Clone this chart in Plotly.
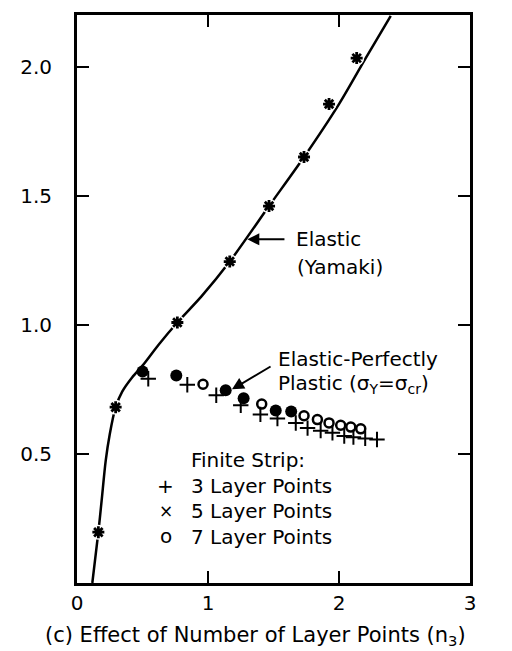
import plotly.graph_objects as go

# Elastic (Yamaki) curve
curve_x = [0.117, 0.163, 0.188, 0.219, 0.25, 0.295, 0.346, 0.422, 0.5, 0.626, 0.766,
           0.95, 1.166, 1.466, 1.733, 2.0, 2.204, 2.395]
curve_y = [0.0, 0.197, 0.319, 0.473, 0.576, 0.681, 0.742, 0.797, 0.842, 0.925, 1.009,
           1.11, 1.245, 1.46, 1.65, 1.855, 2.033, 2.197]

# Elastic points (asterisks)
elastic_x = [0.163, 0.295, 0.766, 1.166, 1.466, 1.733, 1.924, 2.135]
elastic_y = [0.197, 0.681, 1.009, 1.245, 1.46, 1.65, 1.855, 2.033]

# Finite strip, 3 layer points (+)
n3_x = [0.544, 0.842, 1.063, 1.25, 1.40, 1.53, 1.67, 1.76, 1.86, 1.95, 2.04, 2.11, 2.20, 2.29]
n3_y = [0.791, 0.768, 0.727, 0.688, 0.653, 0.637, 0.62, 0.60, 0.59, 0.582, 0.569, 0.565, 0.56, 0.556]

# Finite strip, 5 layer points (printed as solid dots)
n5_x = [0.50, 0.758, 1.135, 1.272, 1.517, 1.635]
n5_y = [0.819, 0.804, 0.747, 0.716, 0.668, 0.664]

# Finite strip, 7 layer points (open circles)
n7_x = [0.962, 1.41, 1.733, 1.835, 1.924, 2.013, 2.09, 2.166]
n7_y = [0.77, 0.693, 0.648, 0.633, 0.62, 0.611, 0.604, 0.597]

x_ticks = [0, 1, 2, 3]
y_ticks = [0.5, 1.0, 1.5, 2.0]
y_ticktext = ["0.5", "1.0", "1.5", "2.0"]

FONT = "DejaVu Sans"
fig = go.Figure()

fig.add_trace(go.Scatter(x=curve_x, y=curve_y, mode="lines",
                         line=dict(color="black", width=2.5, shape="spline", smoothing=0.8),
                         hoverinfo="skip"))
# white halos to break the curve around the asterisks
fig.add_trace(go.Scatter(x=elastic_x, y=elastic_y, mode="markers",
                         marker=dict(symbol="circle", size=15, color="white"),
                         hoverinfo="skip"))
fig.add_trace(go.Scatter(x=elastic_x, y=elastic_y, mode="markers",
                         marker=dict(symbol="asterisk-open", size=10, color="black",
                                     line=dict(color="black", width=2.8))))
fig.add_trace(go.Scatter(x=n3_x, y=n3_y, mode="markers",
                         marker=dict(symbol="cross-thin-open", size=11, color="black",
                                     line=dict(color="black", width=2))))
fig.add_trace(go.Scatter(x=n5_x, y=n5_y, mode="markers",
                         marker=dict(symbol="circle", size=12, color="black")))
fig.add_trace(go.Scatter(x=n7_x, y=n7_y, mode="markers",
                         marker=dict(symbol="circle-open", size=9, color="black",
                                     line=dict(color="black", width=2.5))))

def ann(text, x, y, xanchor="left", size=20):
    fig.add_annotation(text=text, x=x, y=y, xref="x", yref="y", showarrow=False,
                       xanchor=xanchor, yanchor="middle",
                       font=dict(family=FONT, size=size, color="black"))

ann("Elastic", 1.656, 1.331)
ann("(Yamaki)", 1.664, 1.223)
ann("Elastic-Perfectly", 1.519, 0.869)
ann("Plastic (σ<sub>Y</sub>=σ<sub>cr</sub>)", 1.519, 0.769)
ann("Finite Strip:", 0.855, 0.477)
ann("+", 0.679, 0.377, "center")
ann("×", 0.679, 0.277, "center", 17)
ann("o", 0.679, 0.183, "center")
ann("3 Layer Points", 0.855, 0.377)
ann("5 Layer Points", 0.855, 0.277)
ann("7 Layer Points", 0.855, 0.177)

# arrows
fig.add_annotation(x=1.30, y=1.331, ax=1.595, ay=1.331, xref="x", yref="y",
                   axref="x", ayref="y", showarrow=True, text="",
                   arrowhead=2, arrowsize=1.2, arrowwidth=2, arrowcolor="black")
fig.add_annotation(x=1.183, y=0.75, ax=1.489, ay=0.842, xref="x", yref="y",
                   axref="x", ayref="y", showarrow=True, text="",
                   arrowhead=2, arrowsize=1.2, arrowwidth=2, arrowcolor="black")

# axis title
fig.add_annotation(text="(c) Effect of Number of Layer Points (n<sub>3</sub>)",
                   x=0.455, y=-0.093, xref="paper", yref="paper", showarrow=False,
                   xanchor="center", yanchor="middle",
                   font=dict(family=FONT, size=21, color="black"))

fig.update_xaxes(range=[0, 3], tickvals=x_ticks, ticks="inside", ticklen=12, tickwidth=2,
                 tickcolor="black", showline=True, linecolor="black", linewidth=3,
                 mirror="ticks", showgrid=False, zeroline=False,
                 tickfont=dict(family=FONT, size=20, color="black"))
fig.update_yaxes(range=[0, 2.2], tickvals=y_ticks, ticktext=y_ticktext, ticks="inside",
                 ticklen=12, tickwidth=2, tickcolor="black", showline=True,
                 linecolor="black", linewidth=3, mirror="ticks", showgrid=False,
                 zeroline=False, ticklabelstandoff=18,
                 tickfont=dict(family=FONT, size=20, color="black"))

fig.update_layout(width=512, height=651, margin=dict(l=77, r=42, t=12, b=68),
                  plot_bgcolor="white", paper_bgcolor="white", showlegend=False,
                  font=dict(family=FONT, color="black"))

fig.write_html("out.html")
